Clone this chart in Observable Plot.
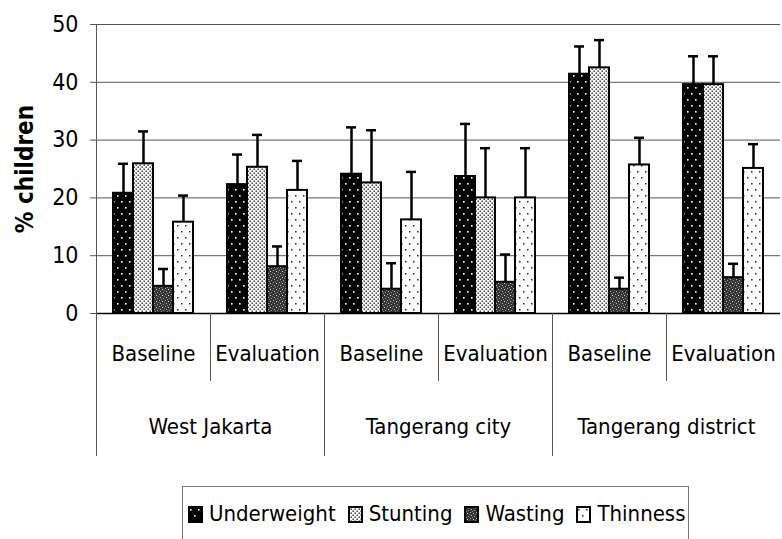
<!DOCTYPE html>
<html>
<head>
<meta charset="utf-8">
<script src="https://cdn.jsdelivr.net/npm/d3@7"></script>
<script src="https://cdn.jsdelivr.net/npm/@observablehq/plot@0.6"></script>
<style>
  body { margin: 0; background: #fff; font-family: "DejaVu Sans", sans-serif; font-stretch: condensed; color: #000; }
  #chart svg { display: block; font-stretch: condensed; }
  #legend {
    position: absolute; left: 182px; top: 486px; width: 507px; height: 60px;
    border: 1px solid #777; box-sizing: border-box;
    display: flex; align-items: flex-start; padding: 14px 0 0 5px; gap: 12px;
    font-size: 22px; line-height: 26px; font-stretch: condensed;
  }
  .item { display: flex; align-items: center; gap: 6px; white-space: nowrap; }
  .item svg { display: block; }
</style>
</head>
<body>
<svg width="0" height="0" style="position:absolute">
  <defs>
    <pattern id="p-under" patternUnits="userSpaceOnUse" width="8" height="12">
      <rect width="8" height="12" fill="#000"/>
      <rect x="2" y="3" width="1.6" height="1.6" fill="#fff"/>
      <rect x="6" y="9" width="1.6" height="1.6" fill="#fff"/>
    </pattern>
    <pattern id="p-stunt" patternUnits="userSpaceOnUse" width="4" height="4">
      <rect width="4" height="4" fill="#fff"/>
      <rect x="0.5" y="0.5" width="1.4" height="1.4" fill="#222"/>
      <rect x="2.5" y="2.5" width="1.4" height="1.4" fill="#222"/>
    </pattern>
    <pattern id="p-waste" patternUnits="userSpaceOnUse" width="6" height="6">
      <rect width="6" height="6" fill="#333"/>
      <rect x="0" y="0" width="1" height="1" fill="#aaa"/>
      <rect x="3" y="1" width="1" height="1" fill="#ddd"/>
      <rect x="1" y="3" width="1" height="1" fill="#bbb"/>
      <rect x="4" y="4" width="1" height="1" fill="#999"/>
      <rect x="5" y="2" width="1" height="1" fill="#777"/>
      <rect x="2" y="5" width="1" height="1" fill="#888"/>
    </pattern>
    <pattern id="p-thin" patternUnits="userSpaceOnUse" width="8" height="12">
      <rect width="8" height="12" fill="#fff"/>
      <rect x="2" y="3" width="1.5" height="1.5" fill="#222"/>
      <rect x="6" y="9" width="1.5" height="1.5" fill="#222"/>
    </pattern>
  </defs>
</svg>
<div id="chart"></div>
<div id="legend"></div>
<script>
// ---- data ----
const regions = ["West Jakarta", "Tangerang city", "Tangerang district"];
const periods = ["Baseline", "Evaluation"];
const indicators = ["Underweight", "Stunting", "Wasting", "Thinness"];
// order: WJ-Baseline, WJ-Evaluation, TC-Baseline, TC-Evaluation, TD-Baseline, TD-Evaluation
const underweight      = [20.8, 22.3, 24.1, 23.7, 41.4, 39.6];
const underweightUpper = [25.9, 27.5, 32.2, 32.8, 46.2, 44.5];
const stunting         = [25.9, 25.3, 22.6, 20.0, 42.5, 39.6];
const stuntingUpper    = [31.5, 30.9, 31.7, 28.6, 47.3, 44.5];
const wasting          = [4.7, 8.1, 4.2, 5.4, 4.2, 6.2];
const wastingUpper     = [7.7, 11.6, 8.7, 10.2, 6.2, 8.6];
const thinness         = [15.8, 21.3, 16.2, 20.0, 25.7, 25.1];
const thinnessUpper    = [20.4, 26.4, 24.5, 28.6, 30.4, 29.3];
const yTicks = [0, 10, 20, 30, 40, 50];
const yLabel = "% children";

// ---- build table ----
const values = [underweight, stunting, wasting, thinness];
const uppers = [underweightUpper, stuntingUpper, wastingUpper, thinnessUpper];
const patterns = ["url(#p-under)", "url(#p-stunt)", "url(#p-waste)", "url(#p-thin)"];
const facets = [];
regions.forEach(r => periods.forEach(p => facets.push({key: r + "|" + p, region: r, period: p})));
const rows = [];
facets.forEach((f, i) => indicators.forEach((ind, j) => rows.push({
  key: f.key, region: f.region, period: f.period, indicator: ind,
  value: values[j][i], upper: uppers[j][i]
})));
const keys = facets.map(f => f.key);

const lineShape = {draw(context, l) { context.moveTo(0, 0); context.lineTo(0, -l); }};
const font = '"DejaVu Sans", sans-serif';

const chart = Plot.plot({
  width: 782, height: 470,
  marginLeft: 93, marginRight: 0, marginTop: 24, marginBottom: 157,
  style: {fontFamily: font, fontSize: "22px", color: "#000", background: "#fff", overflow: "visible"},
  fx: {domain: keys, paddingInner: 0, paddingOuter: 0, axis: null},
  x: {domain: indicators, paddingInner: 0, paddingOuter: 0.72, axis: null},
  y: {domain: [0, 50], axis: null},
  marks: [
    Plot.ruleY(yTicks.filter(d => d > 0), {stroke: "#555", strokeWidth: 1}),
    Plot.axisY({ticks: yTicks, tickSize: 6, tickPadding: 12, label: null, fontSize: 23, stroke: "#555"}),
    Plot.text([yLabel], {fx: () => keys[0], frameAnchor: "left", textAnchor: "middle", rotate: -90, dx: -71, fontSize: 24, fontWeight: "bold", text: d => d, letterSpacing: "1.5px"}),
    ...indicators.map((ind, j) => Plot.barY(rows.filter(d => d.indicator === ind), {
      fx: "key", x: "indicator", y: "value", fill: patterns[j], stroke: "#000", strokeWidth: 2, inset: 0
    })),
    Plot.ruleX(rows, {fx: "key", x: "indicator", y1: "value", y2: "upper", stroke: "#000", strokeWidth: 2.5}),
    Plot.tickY(rows, {fx: "key", x: "indicator", y: "upper", stroke: "#000", strokeWidth: 2.5, insetLeft: 5, insetRight: 5}),
    Plot.ruleY([0], {stroke: "#000", strokeWidth: 1.5}),
    Plot.text(facets, {fx: "key", text: "period", frameAnchor: "bottom", dy: 47, fontSize: 22}),
    Plot.text(facets.filter(f => f.period === periods[0]), {fx: "key", text: "region", frameAnchor: "bottom-right", textAnchor: "middle", dy: 120, fontSize: 22}),
    Plot.vector(facets.filter(f => f.period !== periods[0]), {fx: "key", frameAnchor: "bottom-left", length: 67, rotate: 180, anchor: "start", shape: lineShape, stroke: "#555", strokeWidth: 1, fill: "none"}),
    Plot.vector(facets.filter((f, i) => f.period === periods[0] && i > 0), {fx: "key", frameAnchor: "bottom-left", length: 142, rotate: 180, anchor: "start", shape: lineShape, stroke: "#555", strokeWidth: 1, fill: "none"}),
    Plot.vector(facets.slice(0, 1), {fx: "key", frameAnchor: "top-left", length: 431, rotate: 180, anchor: "start", shape: lineShape, stroke: "#555", strokeWidth: 1, fill: "none"})
  ]
});
document.getElementById("chart").appendChild(chart);

// ---- legend ----
const legend = d3.select("#legend");
indicators.forEach((ind, j) => {
  const item = legend.append("div").attr("class", "item");
  const s = item.append("svg").attr("width", 15).attr("height", 17);
  s.append("rect").attr("x", 1).attr("y", 1).attr("width", 13).attr("height", 15)
    .attr("fill", patterns[j]).attr("stroke", "#000").attr("stroke-width", 2);
  item.append("span").text(ind);
});
</script>
</body>
</html>
